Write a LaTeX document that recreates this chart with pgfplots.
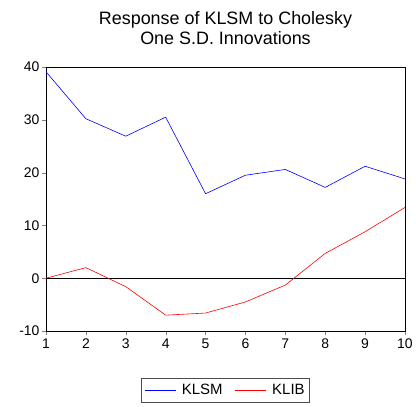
\documentclass[border=0pt]{standalone}
\usepackage{fontspec}
\setmainfont{Liberation Sans}
\usepackage{pgfplots}
\pgfplotsset{compat=1.18}
\begin{document}
\begin{tikzpicture}
\path[use as bounding box] (0,0) rectangle (416bp,407bp);
\begin{axis}[
  at={(46bp,76bp)}, anchor=south west,
  scale only axis, width=359bp, height=264bp,
  xmin=1, xmax=10, ymin=-10, ymax=40,
  xtick={1,...,10}, ytick={-10,0,10,20,30,40},
  yticklabels={-10,0,10,20,30,40},
  xticklabels={1,2,3,4,5,6,7,8,9,10},
  tick align=outside, tick pos=left,
  major tick length=4bp,
  tick label style={font=\fontsize{14}{16}\selectfont},
  yticklabel style={xshift=1bp},
  axis line style={black, line width=0.6pt},
  title={Response of KLSM to Cholesky\\One S.D. Innovations},
  title style={align=center, font=\fontsize{18}{20}\selectfont,
    at={(0.5,1)}, anchor=base, yshift=16.5bp, inner sep=0pt},
  legend style={at={(0.5,-0.178)}, anchor=north, legend columns=2,
    draw=black!70, font=\fontsize{15}{17}\selectfont,
    /tikz/every odd column/.append style={column sep=4bp},
    /tikz/every even column/.append style={column sep=10bp},
    inner xsep=3bp, inner ysep=4bp},
  legend image code/.code={\draw[mark repeat=2,mark phase=2,#1] plot coordinates {(0bp,0bp) (15.5bp,0bp) (31bp,0bp)};},
]
\addplot[black, line width=0.6pt, forget plot] coordinates {(1,0) (10,0)};
\addplot[blue, line width=0.6pt] coordinates {
(1,39.1) (2,30.2) (3,26.9) (4,30.5) (5,16.0) (6,19.5) (7,20.6) (8,17.2) (9,21.2) (10,18.8)};
\addplot[red, line width=0.6pt] coordinates {
(1,0) (2,2.0) (3,-1.6) (4,-7.0) (5,-6.6) (6,-4.5) (7,-1.3) (8,4.7) (9,8.8) (10,13.4)};
\legend{KLSM, KLIB}
\end{axis}
\end{tikzpicture}
\end{document}
